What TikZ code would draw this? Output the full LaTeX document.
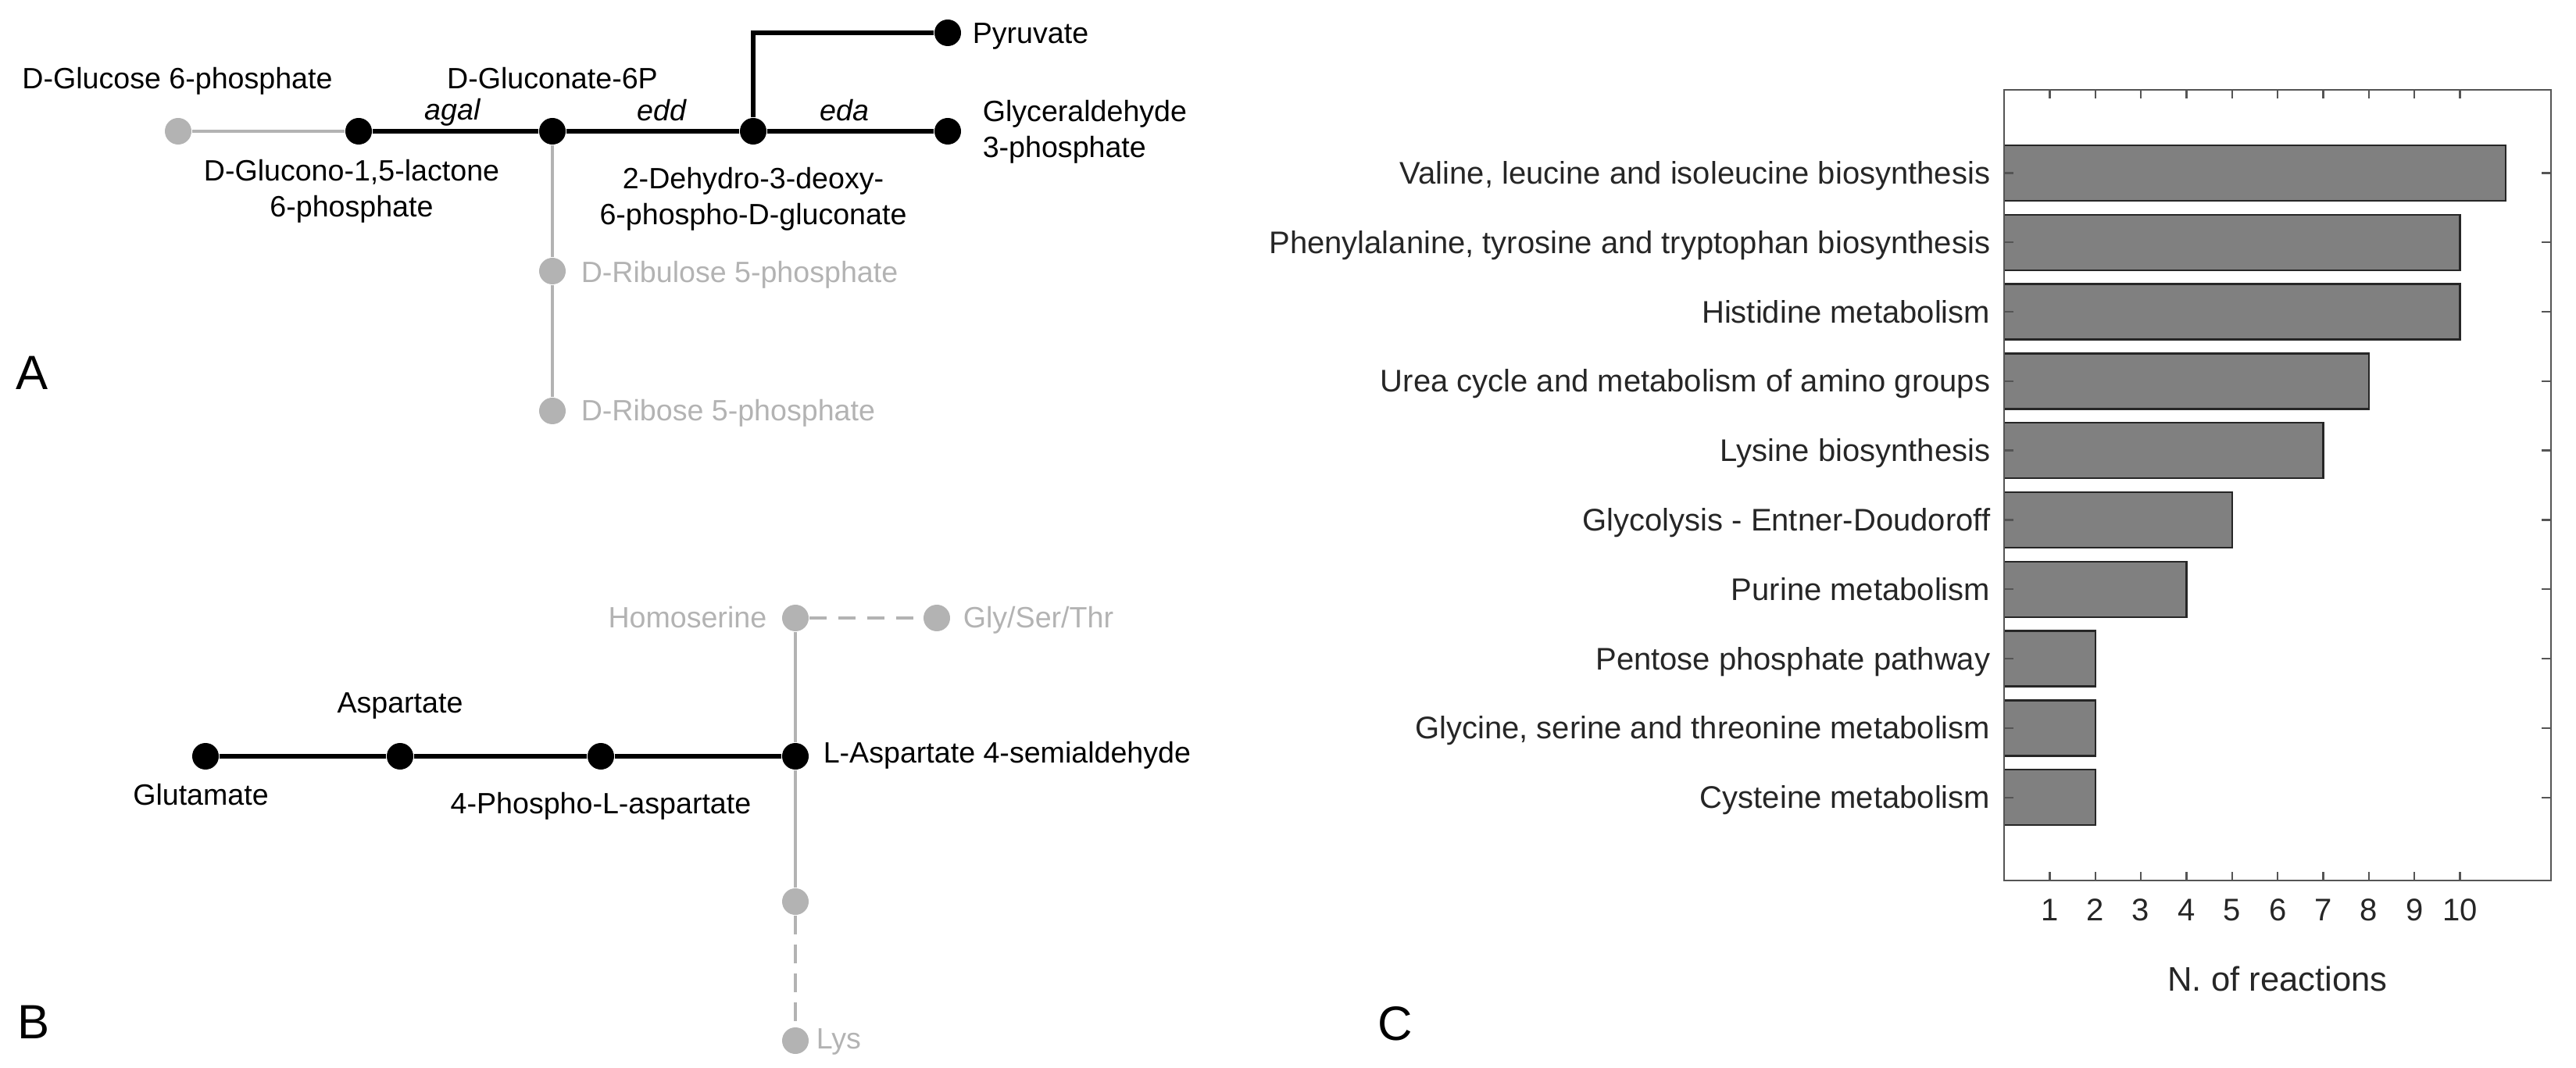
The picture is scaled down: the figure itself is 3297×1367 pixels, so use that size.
\documentclass[tikz,border=0pt]{standalone}
\usepackage{fontspec}
\setmainfont{Liberation Sans}
\definecolor{lgray}{HTML}{B3B3B3}
\definecolor{axgray}{HTML}{555555}
\definecolor{barfill}{HTML}{808080}
\begin{document}
\begin{tikzpicture}[x=0.25pt,y=-0.25pt,
  bdot/.style={circle,fill=black,inner sep=0pt,minimum size=8.5pt},
  gdot/.style={circle,fill=lgray,inner sep=0pt,minimum size=8.5pt},
  bline/.style={line width=1.3pt,black},
  gline/.style={line width=1pt,lgray},
  gdash/.style={gline,dash pattern=on 5.5pt off 3.75pt},
  gdashv/.style={gline,dash pattern=on 6pt off 3.25pt},
  lbl/.style={inner sep=0pt,font=\fontsize{9.4}{11.4}\selectfont},
  glbl/.style={lbl,text=lgray},
  enz/.style={inner sep=0pt,font=\fontsize{9.4}{11.4}\selectfont\itshape,anchor=base},
  panel/.style={inner sep=0pt,font=\fontsize{15.4}{18}\selectfont,anchor=base west},
  clbl/.style={inner sep=0pt,font=\fontsize{10}{12}\selectfont,text=black!85},
  xlbl/.style={inner sep=0pt,font=\fontsize{10.9}{13}\selectfont,text=black!85},
  bar/.style={draw=black!85,fill=barfill,line width=0.6pt},
  axis/.style={draw=axgray,line width=0.6pt},
]
\useasboundingbox (0,0) rectangle (3297,1367);

% ---------------- Panel A ----------------
\node[gdot] (g6p) at (228,168) {};
\node[bdot] (glac) at (459,168) {};
\node[bdot] (gnt) at (707,168) {};
\node[bdot] (kdpg) at (964,168) {};
\node[bdot] (pyr) at (1213,42) {};
\node[bdot] (gap) at (1213,168) {};
\node[gdot] (ru5p) at (707,347) {};
\node[gdot] (r5p) at (707,526) {};

\draw[gline] (g6p) -- (glac);
\draw[bline] (glac) -- (gnt) -- (kdpg) -- (gap);
\draw[bline] (kdpg) |- (pyr);
\draw[gline] (gnt) -- (ru5p) -- (r5p);

\node[lbl,anchor=base] (tg6p) at (227,113.6) {D-Glucose 6-phosphate};
\node[lbl,anchor=base] (tgnt) at (707,113.6) {D-Gluconate-6P};
\node[enz] (tagal) at (579,154) {agal};
\node[enz] (tedd) at (847,155) {edd};
\node[enz] (teda) at (1081,155) {eda};
\node[lbl,anchor=base west] (tpyr) at (1244,55.5) {Pyruvate};
\node[lbl,anchor=base west] (tgap) at (1257,156) {\begin{tabular}[t]{@{}l@{}}Glyceraldehyde\\3-phosphate\end{tabular}};
\node[lbl,anchor=base] (tkdpg) at (964,241.5) {\begin{tabular}[t]{@{}c@{}}2-Dehydro-3-deoxy-\\6-phospho-D-gluconate\end{tabular}};
\node[lbl,anchor=base] (tglac) at (450,232) {\begin{tabular}[t]{@{}c@{}}D-Glucono-1,5-lactone\\6-phosphate\end{tabular}};
\node[glbl,anchor=base west] (tru5p) at (743,362) {D-Ribulose 5-phosphate};
\node[glbl,anchor=base west] (tr5p) at (743,538.6) {D-Ribose 5-phosphate};

\node[panel] (pA) at (20,499) {A};

% ---------------- Panel B ----------------
\node[bdot] (glu) at (263,968) {};
\node[bdot] (asp) at (512,968) {};
\node[bdot] (pasp) at (769,968) {};
\node[bdot] (lasa) at (1018,968) {};
\node[gdot] (hser) at (1018,791) {};
\node[gdot] (gst) at (1199,791) {};
\node[gdot] (mid) at (1018,1154) {};
\node[gdot] (lys) at (1018,1332) {};

\draw[bline] (glu) -- (asp) -- (pasp) -- (lasa);
\draw[gline] (hser) -- (lasa) -- (mid);
\draw[gdash] (hser) -- (gst);
\draw[gdashv] (mid) -- (lys);

\node[lbl,anchor=base] (tglu) at (257,1030.5) {Glutamate};
\node[lbl,anchor=base] (tasp) at (512,912.5) {Aspartate};
\node[lbl,anchor=base] (tpasp) at (769,1041.7) {4-Phospho-L-aspartate};
\node[lbl,anchor=base west] (tlasa) at (1053,976.7) {L-Aspartate 4-semialdehyde};
\node[glbl,anchor=base east] (thser) at (982,803) {Homoserine};
\node[glbl,anchor=base west] (tgst) at (1232,803) {Gly/Ser/Thr};
\node[glbl,anchor=base west] (tlys) at (1044,1342) {Lys};

\node[panel] (pB) at (22,1329) {B};

% ---------------- Panel C ----------------
\foreach \v [count=\i] in {11,10,10,8,7,5,4,2,2,2} {
  \pgfmathsetmacro\yc{221.5+(\i-1)*88.8}
  \draw[bar] (2565,\yc-35.5) rectangle ({2565+58.35*\v},\yc+35.5);
  \draw[axis] (2565,\yc) -- ++(12,0);
  \draw[axis] (3265,\yc) -- ++(-12,0);
}
\foreach \t [count=\i] in {{Valine, leucine and isoleucine biosynthesis},
  {Phenylalanine, tyrosine and tryptophan biosynthesis},
  {Histidine metabolism},
  {Urea cycle and metabolism of amino groups},
  {Lysine biosynthesis},
  {Glycolysis - Entner-Doudoroff},
  {Purine metabolism},
  {Pentose phosphate pathway},
  {Glycine, serine and threonine metabolism},
  {Cysteine metabolism}} {
  \node[clbl,anchor=base east] (path\i) at (2548,{221.5+(\i-1)*88.8+14}) {\t};
}
\draw[axis] (2565,115) rectangle (3265,1127);
\foreach \k in {1,...,10} {
  \draw[axis] ({2565+58.35*\k},115) -- ++(0,11);
  \draw[axis] ({2565+58.35*\k},1127) -- ++(0,-11);
  \node[clbl,anchor=base] (tick\k) at ({2565+58.35*\k},1178) {\k};
}
\node[xlbl,anchor=base] (xlab) at (2915,1268) {N. of reactions};

\node[panel] (pC) at (1763,1331) {C};
\end{tikzpicture}
\end{document}
